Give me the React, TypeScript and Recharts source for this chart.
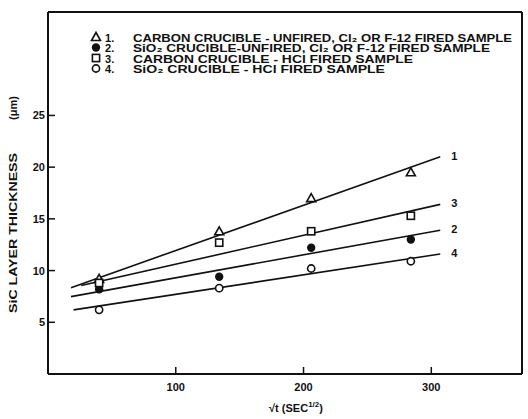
import React from 'react';
import { ComposedChart, Line, Scatter, XAxis, YAxis, Legend, LabelList } from 'recharts';

// sqrt(t) of each sample, SEC^1/2
const sampleTimes = [40, 134, 206, 284];

// SiC layer thickness, um (series order 1..4 as in the legend)
const carbonUnfired = [9.2, 13.8, 17.0, 19.5];
const silicaUnfired = [8.2, 9.4, 12.2, 13.0];
const carbonHcl = [8.8, 12.7, 13.8, 15.3];
const silicaHcl = [6.2, 8.3, 10.2, 10.9];

// fitted straight lines, start/end of each
const fitStartX = [18, 18, 26, 20];
const fitStartY = [8.35, 7.48, 8.55, 6.2];
const fitEndX = [307, 307, 307, 307];
const fitEndY = [21.0, 13.9, 16.4, 11.6];

const seriesNumbers = ['1', '2', '3', '4'];
const seriesNames = [
  'CARBON  CRUCIBLE - UNFIRED, Cl₂ OR F-12 FIRED SAMPLE',
  'SiO₂ CRUCIBLE-UNFIRED,  Cl₂ OR F-12  FIRED SAMPLE',
  'CARBON  CRUCIBLE - HCl  FIRED SAMPLE',
  'SiO₂ CRUCIBLE - HCl  FIRED SAMPLE',
];

const xTicks = [100, 200, 300];
const yTicks = [5, 10, 15, 20, 25];

const FONT = "'Liberation Sans', Arial, sans-serif";
const INK = '#111';

const seriesValues = [carbonUnfired, silicaUnfired, carbonHcl, silicaHcl];
const points = seriesValues.map((vals) => sampleTimes.map((x, i) => ({ x, y: vals[i] })));
const fits = seriesNumbers.map((_, i) => [
  { x: fitStartX[i], y: fitStartY[i] },
  { x: fitEndX[i], y: fitEndY[i] },
]);

function Marker({ kind, cx, cy }: { kind: number; cx: number; cy: number }) {
  if (kind === 0)
    return (
      <polygon
        points={`${cx},${cy - 4.5} ${cx - 4.5},${cy + 3.5} ${cx + 4.5},${cy + 3.5}`}
        fill="#fff"
        stroke={INK}
        strokeWidth={1.6}
      />
    );
  if (kind === 1) return <circle cx={cx} cy={cy} r={4.2} fill={INK} />;
  if (kind === 2)
    return <rect x={cx - 3.6} y={cy - 3.6} width={7.2} height={7.2} fill="#fff" stroke={INK} strokeWidth={1.6} />;
  return <circle cx={cx} cy={cy} r={3.6} fill="#fff" stroke={INK} strokeWidth={1.6} />;
}

const BottomTick = (p: any) => (
  <g>
    <line x1={p.x} y1={p.y} x2={p.x} y2={p.y - 7} stroke={INK} strokeWidth={1.5} />
    <text x={p.x} y={p.y + 17} textAnchor="middle" fontFamily={FONT} fontWeight="bold" fontSize={11} fill={INK}>
      {p.payload.value}
    </text>
  </g>
);
const TopTick = (p: any) => <line x1={p.x} y1={p.y} x2={p.x} y2={p.y + 7} stroke={INK} strokeWidth={1.5} />;
const LeftTick = (p: any) => (
  <g>
    <line x1={p.x} y1={p.y} x2={p.x + 7} y2={p.y} stroke={INK} strokeWidth={1.5} />
    <text x={p.x - 3} y={p.y + 4} textAnchor="end" fontFamily={FONT} fontWeight="bold" fontSize={11} fill={INK}>
      {p.payload.value}
    </text>
  </g>
);
const RightTick = (p: any) => <line x1={p.x - 5} y1={p.y} x2={p.x + 5} y2={p.y} stroke={INK} strokeWidth={1.5} />;

const renderLegend = () => (
  <svg width={528} height={90}>
    {seriesNames.map((name, i) => {
      const cy = 37 + i * 10.5;
      const widths = [379, 357, 280, 252];
      return (
        <g key={name}>
          <Marker kind={i} cx={96} cy={cy} />
          <text x={105} y={cy + 4.5} fontFamily={FONT} fontWeight="bold" fontSize={11} fill={INK}>
            {seriesNumbers[i]}.
          </text>
          <text
            x={133}
            y={cy + 4.5}
            fontFamily={FONT}
            fontWeight="bold"
            fontSize={11}
            fill={INK}
            textLength={widths[i]}
            lengthAdjust="spacingAndGlyphs"
          >
            {name}
          </text>
        </g>
      );
    })}
  </svg>
);

const XTitle = (p: any) => {
  const { x, width, y } = p.viewBox;
  return (
    <text x={x + width / 2 + 11} y={y + 38} textAnchor="middle" fontFamily={FONT} fontWeight="bold" fontSize={11} fill={INK}>
      √t{'   '}(SEC
      <tspan fontSize={8} dy={-5}>
        1/2
      </tspan>
      <tspan dy={5}>)</tspan>
    </text>
  );
};

const YTitle = () => (
  <g fontFamily={FONT} fontWeight="bold" fontSize={11} fill={INK}>
    <text transform="translate(17,233) rotate(-90)" textAnchor="middle" textLength={160} lengthAdjust="spacingAndGlyphs">
      SiC  LAYER  THICKNESS
    </text>
    <text transform="translate(17,108) rotate(-90)" textAnchor="middle">
      (μm)
    </text>
  </g>
);

const EndLabel = (n: string) => (p: any) =>
  p.index === 1 ? (
    <text x={p.x + 11} y={p.y + 3} fontFamily={FONT} fontWeight="bold" fontSize={11} fill={INK}>
      {n}
    </text>
  ) : null;

export default function App() {
  return (
    <div style={{ position: 'absolute', left: 0, top: 0, width: 528, height: 419, background: '#fff' }}>
      <ComposedChart width={528} height={419} margin={{ top: 11, right: 5, bottom: 0, left: 0 }}>
        <XAxis
          dataKey="x"
          type="number"
          domain={[0, 371]}
          ticks={xTicks}
          height={45}
          tickSize={0}
          tickMargin={0}
          tickLine={false}
          axisLine={{ stroke: INK, strokeWidth: 2 }}
          tick={BottomTick}
          label={{ content: XTitle }}
          allowDataOverflow
        />
        <XAxis
          xAxisId="top"
          orientation="top"
          dataKey="x"
          type="number"
          domain={[0, 371]}
          ticks={xTicks}
          height={1}
          tickSize={0}
          tickMargin={0}
          tickLine={false}
          axisLine={{ stroke: INK, strokeWidth: 2 }}
          tick={TopTick}
        />
        <YAxis
          type="number"
          domain={[0, 35]}
          ticks={yTicks}
          width={48}
          tickSize={0}
          tickMargin={0}
          tickLine={false}
          axisLine={{ stroke: INK, strokeWidth: 2 }}
          tick={LeftTick}
          label={{ content: YTitle }}
          allowDataOverflow
        />
        <YAxis
          yAxisId="right"
          orientation="right"
          type="number"
          domain={[0, 35]}
          ticks={yTicks}
          width={1}
          tickSize={0}
          tickMargin={0}
          tickLine={false}
          axisLine={{ stroke: INK, strokeWidth: 2 }}
          tick={RightTick}
        />
        <Legend
          layout="horizontal"
          verticalAlign="middle"
          align="center"
          content={renderLegend}
          wrapperStyle={{ position: 'absolute', left: 0, top: 0, width: 528, height: 90 }}
        />
        {fits.map((d, i) => (
          <Line
            key={'fit' + i}
            data={d}
            dataKey="y"
            type="linear"
            stroke={INK}
            strokeWidth={1.6}
            dot={false}
            activeDot={false}
            legendType="none"
            isAnimationActive={false}
          >
            <LabelList dataKey="y" content={EndLabel(seriesNumbers[i])} />
          </Line>
        ))}
        {points.map((d, i) => (
          <Scatter
            key={'pts' + i}
            name={seriesNames[i]}
            data={d}
            dataKey="y"
            shape={(p: any) => <Marker kind={i} cx={p.cx} cy={p.cy} />}
            isAnimationActive={false}
          />
        ))}
      </ComposedChart>
    </div>
  );
}
